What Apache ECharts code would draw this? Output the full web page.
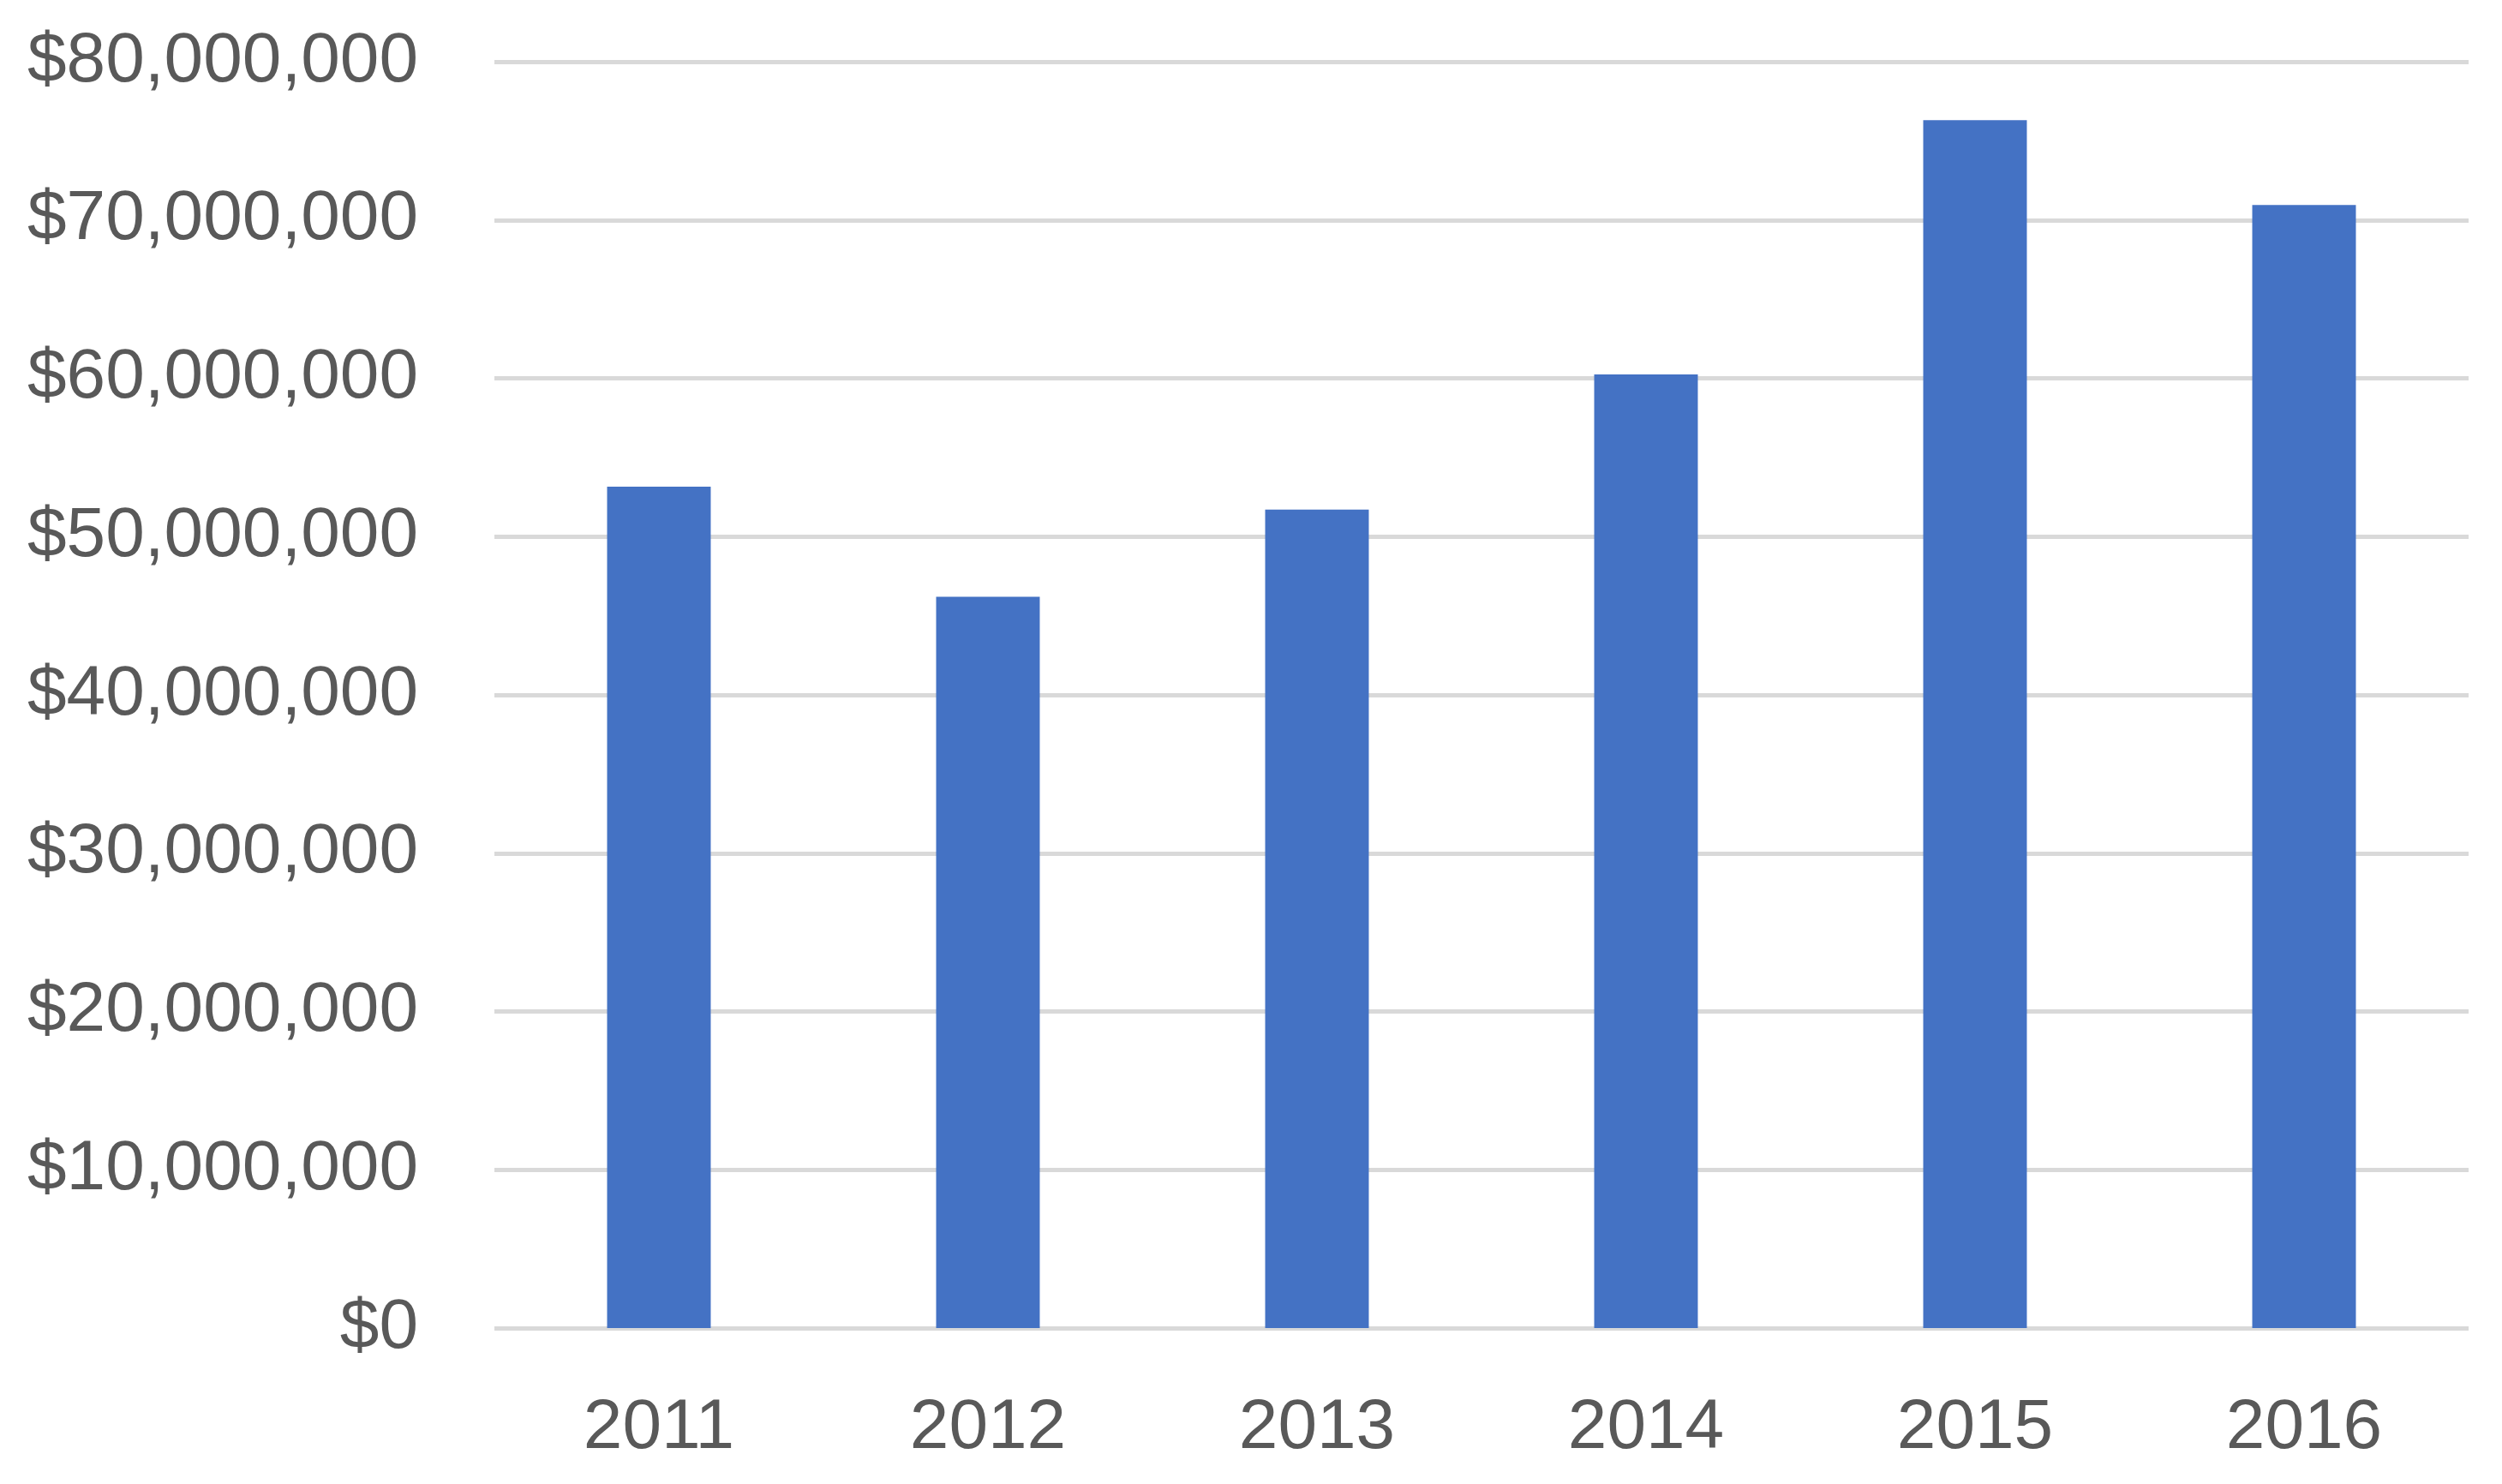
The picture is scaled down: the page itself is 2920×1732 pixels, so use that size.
<!DOCTYPE html>
<html>
<head>
<meta charset="utf-8">
<script src="https://cdn.jsdelivr.net/npm/echarts@6/dist/echarts.min.js"></script>
<style>html,body{margin:0;padding:0;background:#fff}#c{width:2920px;height:1732px}</style>
</head>
<body>
<div id="c"></div>
<script>
const categories = ['2011', '2012', '2013', '2014', '2015', '2016'];
const revenue = [53150000, 46200000, 51700000, 60250000, 76300000, 70950000];
const yTicks = [0, 10000000, 20000000, 30000000, 40000000, 50000000, 60000000, 70000000, 80000000];

function fmt(v) {
  return '$' + Math.round(v).toString().replace(/\B(?=(\d{3})+(?!\d))/g, ',');
}

const chart = echarts.init(document.getElementById('c'), null, { renderer: 'canvas' });
chart.setOption({
  animation: false,
  backgroundColor: '#ffffff',
  grid: { left: 577, right: 39, top: 72, bottom: 182, containLabel: false },
  xAxis: {
    type: 'category',
    data: categories,
    axisLine: { show: false },
    axisTick: { show: false },
    axisLabel: { color: '#595959', fontFamily: 'Liberation Sans', fontSize: 82, margin: 76 }
  },
  yAxis: {
    type: 'value',
    min: yTicks[0],
    max: yTicks[yTicks.length - 1],
    interval: yTicks[1] - yTicks[0],
    axisLine: { show: false },
    axisTick: { show: false },
    splitLine: { show: true, lineStyle: { color: '#D9D9D9', width: 5 } },
    axisLabel: { color: '#595959', fontFamily: 'Liberation Sans', fontSize: 82, margin: 89, formatter: fmt }
  },
  series: [{
    type: 'bar',
    data: revenue,
    barWidth: '31.5%',
    itemStyle: { color: '#4472C4' }
  }]
});
</script>
</body>
</html>
